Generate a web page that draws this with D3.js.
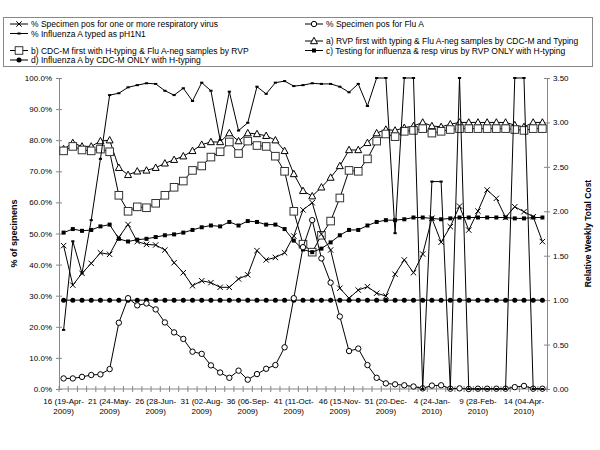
<!DOCTYPE html>
<html>
<head>
<meta charset="utf-8">
<script src="https://d3js.org/d3.v7.min.js"></script>
<style>
  body { margin: 0; background: #fff; }
  text { font-family: "Liberation Sans", Arial, sans-serif; fill: #000; }
</style>
</head>
<body>
<svg width="600" height="450"></svg>
<script>
// week numbers (MMWR), week 16 2009 .. week 16 2010
const weeks = [16,17,18,19,20,21,22,23,24,25,26,27,28,29,30,31,32,33,34,35,36,37,38,39,40,
  41,42,43,44,45,46,47,48,49,50,51,52,1,2,3,4,5,6,7,8,9,10,11,12,13,14,15,16];
const tickLabels = ["16 (19-Apr-2009)", "21 (24-May-2009)", "26 (28-Jun-2009)", "31 (02-Aug-2009)",
  "36 (06-Sep-2009)", "41 (11-Oct-2009)", "46 (15-Nov-2009)", "51 (20-Dec-2009)",
  "4 (24-Jan-2010)", "9 (28-Feb-2010)", "14 (04-Apr-2010)"];

// left axis, percent
const anyVirus = [46.1,33.4,37.2,40.4,43.8,43.3,48.8,52.9,47.4,46.5,46.3,44.7,40.6,37.4,33.2,34.8,34.2,32.7,32.7,35.4,
  36.7,44.5,41.5,42.3,43.8,49.2,57.6,59.9,49.8,44.7,32.4,29.2,31.8,32.9,30.8,29.9,36.9,41.5,37.4,43.4,
  54.9,47.2,52.2,58.8,51.1,57.2,64.0,61.3,55.2,58.6,57.0,55.4,47.4];
const fluA = [3.4,3.4,3.9,4.5,4.7,6.4,21.3,29.2,26.9,27.5,25.6,21.4,18.2,16.1,12.0,11.3,7.6,5.3,3.6,5.9,
  3.0,4.8,6.5,7.7,13.4,29.2,45.6,54.3,42.0,34.2,23.3,12.2,13.0,7.7,3.6,1.8,1.5,1.2,0.8,0.2,
  1.1,1.2,0.1,0.2,0.0,0.1,0.1,0.1,0.1,0.6,1.0,0.1,0.1];
const pH1N1 = [19.0,47.5,37.2,54.3,74.0,94.5,95.1,97.0,97.7,98.3,98.1,95.9,94.5,96.7,92.6,98.5,95.9,80.1,95.6,83.1,
  85.6,97.2,94.9,98.5,99.0,97.4,97.7,98.3,98.1,98.1,97.2,95.4,98.1,91.0,100,100,50.1,100,100,0,
  66.7,66.7,0,100,0,0,0,0,0,100,100,0,0];

// right axis, relative weekly total cost
const costA = [2.70,2.77,2.73,2.73,2.79,2.80,2.49,2.41,2.45,2.46,2.49,2.54,2.58,2.62,2.68,2.75,2.78,2.78,2.88,2.79,
  2.88,2.87,2.85,2.80,2.68,2.42,2.23,2.17,2.27,2.38,2.51,2.69,2.69,2.77,2.88,2.92,2.91,2.94,2.96,3.00,
  2.96,2.95,2.98,3.00,3.00,3.00,3.00,3.00,3.00,2.97,2.95,3.00,3.00];
const costB = [2.68,2.73,2.69,2.68,2.70,2.67,2.18,2.00,2.05,2.04,2.09,2.18,2.27,2.34,2.46,2.51,2.61,2.67,2.78,2.65,
  2.79,2.74,2.73,2.62,2.45,2.00,1.63,1.54,1.73,1.89,2.15,2.46,2.45,2.59,2.79,2.87,2.84,2.90,2.91,2.93,
  2.88,2.90,2.92,2.93,2.93,2.93,2.93,2.93,2.93,2.92,2.91,2.93,2.93];
const costC = [1.76,1.80,1.78,1.79,1.83,1.85,1.69,1.66,1.68,1.69,1.71,1.73,1.74,1.76,1.79,1.82,1.84,1.83,1.88,1.84,
  1.89,1.88,1.85,1.85,1.80,1.67,1.57,1.54,1.58,1.65,1.73,1.79,1.79,1.84,1.88,1.90,1.90,1.91,1.93,1.93,
  1.92,1.91,1.92,1.93,1.93,1.93,1.93,1.93,1.93,1.92,1.92,1.93,1.93];
const costD = [1.00,1.00,1.00,1.00,1.00,1.00,1.00,1.00,1.00,1.00,1.00,1.00,1.00,1.00,1.00,1.00,1.00,1.00,1.00,1.00,
  1.00,1.00,1.00,1.00,1.00,1.00,1.00,1.00,1.00,1.00,1.00,1.00,1.00,1.00,1.00,1.00,1.00,1.00,1.00,1.00,
  1.00,1.00,1.00,1.00,1.00,1.00,1.00,1.00,1.00,1.00,1.00,1.00,1.00];

const svg = d3.select("svg");
const plotL = 59, plotR = 547, plotT = 78, plotB = 389;
const axisColor = "#888";

const x = d3.scaleBand().domain(d3.range(weeks.length)).range([plotL, plotR]);
const yL = d3.scaleLinear().domain([0, 100]).range([plotB, plotT]);
const yR = d3.scaleLinear().domain([0, 3.5]).range([plotB, plotT]);
const cx = i => x(i) + x.bandwidth() / 2;

// markers
function marker(g, type) {
  if (type === "x") {
    g.append("path").attr("d", "M-2.7,-2.7L2.7,2.7M-2.7,2.7L2.7,-2.7")
      .attr("stroke", "#000").attr("fill", "none");
  } else if (type === "dash") {
    g.append("path").attr("d", "M-1.6,0L1.6,0").attr("stroke", "#000").attr("stroke-width", 2);
  } else if (type === "circleOpen") {
    g.append("circle").attr("r", 2.7).attr("fill", "#fff").attr("stroke", "#000");
  } else if (type === "triOpen") {
    g.append("path").attr("d", "M0,-3.7L3.5,2.7L-3.5,2.7Z").attr("fill", "#fff").attr("stroke", "#000");
  } else if (type === "sqOpen") {
    g.append("rect").attr("x", -3.8).attr("y", -3.8).attr("width", 7.6).attr("height", 7.6)
      .attr("fill", "#fff").attr("stroke", "#333");
  } else if (type === "sqFill") {
    g.append("rect").attr("x", -2).attr("y", -2).attr("width", 4).attr("height", 4).attr("fill", "#000");
  } else if (type === "dotFill") {
    g.append("circle").attr("r", 2.5).attr("fill", "#000");
  }
}

const series = [
  { values: costA, scale: yR, type: "triOpen" },
  { values: costB, scale: yR, type: "sqOpen" },
  { values: costC, scale: yR, type: "sqFill" },
  { values: costD, scale: yR, type: "dotFill" },
  { values: anyVirus, scale: yL, type: "x" },
  { values: fluA, scale: yL, type: "circleOpen" },
  { values: pH1N1, scale: yL, type: "dash" }
];

// axes
const gL = svg.append("g").attr("transform", `translate(${plotL},0)`)
  .call(d3.axisLeft(yL).tickValues(d3.range(0, 101, 10)).tickFormat(d => d.toFixed(1) + "%")
    .tickSize(3).tickPadding(4));
gL.selectAll(".tick line").attr("x1", 3);
const gR = svg.append("g").attr("transform", `translate(${plotR},0)`)
  .call(d3.axisRight(yR).tickValues(d3.range(0, 3.51, 0.5)).tickFormat(d3.format(".2f"))
    .tickSize(3).tickPadding(3));
gR.selectAll(".tick line").attr("x1", -3);
[gL, gR].forEach(g => {
  g.select(".domain").attr("stroke", axisColor);
  g.selectAll(".tick line").attr("stroke", axisColor);
  g.selectAll(".tick text").attr("font-size", 8).attr("font-family", "Liberation Sans, Arial, sans-serif");
});

// x axis
svg.append("line").attr("x1", plotL).attr("x2", plotR).attr("y1", plotB).attr("y2", plotB)
  .attr("stroke", axisColor);
svg.append("g").selectAll("line").data(d3.range(weeks.length + 1)).join("line")
  .attr("x1", i => plotL + i * x.bandwidth()).attr("x2", i => plotL + i * x.bandwidth())
  .attr("y1", plotB - 3).attr("y2", plotB + 3).attr("stroke", axisColor);
const xl = svg.append("g").selectAll("text").data(tickLabels).join("text")
  .attr("x", (d, k) => cx(k * 5)).attr("y", 404).attr("text-anchor", "middle").attr("font-size", 8);
xl.append("tspan").text(d => d.slice(0, d.lastIndexOf("-") + 1));
xl.append("tspan").attr("x", (d, k) => cx(k * 5)).attr("dy", 10).text(d => d.slice(d.lastIndexOf("-") + 1));

// axis titles
svg.append("text").attr("transform", `translate(17,${(plotT + plotB) / 2}) rotate(-90)`)
  .attr("text-anchor", "middle").attr("font-size", 9).attr("font-weight", "bold").text("% of specimens");
svg.append("text").attr("transform", `translate(591,${(plotT + plotB) / 2}) rotate(-90)`)
  .attr("text-anchor", "middle").attr("font-size", 8.5).attr("font-weight", "bold").text("Relative Weekly Total Cost");

// series
series.forEach(s => {
  const line = d3.line().x((d, i) => cx(i)).y(d => s.scale(d));
  svg.append("path").datum(s.values).attr("d", line)
    .attr("fill", "none").attr("stroke", "#000").attr("stroke-width", 1);
  svg.append("g").selectAll("g").data(s.values).join("g")
    .attr("transform", (d, i) => `translate(${cx(i)},${s.scale(d)})`)
    .each(function () { marker(d3.select(this), s.type); });
});

// legend
const legendLeft = [
  { name: "% Specimen pos for one or more respiratory virus", type: "x", y: 24 },
  { name: "% Influenza A typed as pH1N1", type: "dash", y: 33.5 },
  { name: "b) CDC-M first with H-typing & Flu A-neg samples by RVP", type: "sqOpen", y: 50.5 },
  { name: "d) Influenza A by CDC-M ONLY with H-typing", type: "dotFill", y: 60 }
];
const legendRight = [
  { name: "% Specimen pos for Flu A", type: "circleOpen", y: 24 },
  { name: "a) RVP first with typing & Flu A-neg samples by CDC-M and Typing", type: "triOpen", y: 41 },
  { name: "c) Testing for influenza & resp virus by RVP ONLY with H-typing", type: "sqFill", y: 50.5 }
];
svg.append("rect").attr("x", 3.5).attr("y", 17.5).attr("width", 589).attr("height", 49)
  .attr("fill", "#fff").attr("stroke", axisColor);
[[legendLeft, 10], [legendRight, 305]].forEach(([items, x0]) => {
  items.forEach(it => {
    svg.append("line").attr("x1", x0).attr("x2", x0 + 18).attr("y1", it.y).attr("y2", it.y)
      .attr("stroke", "#000");
    marker(svg.append("g").attr("transform", `translate(${x0 + 9},${it.y})`), it.type);
    svg.append("text").attr("x", x0 + 21).attr("y", it.y + 3).attr("font-size", 8.5).text(it.name);
  });
});
</script>
</body>
</html>
